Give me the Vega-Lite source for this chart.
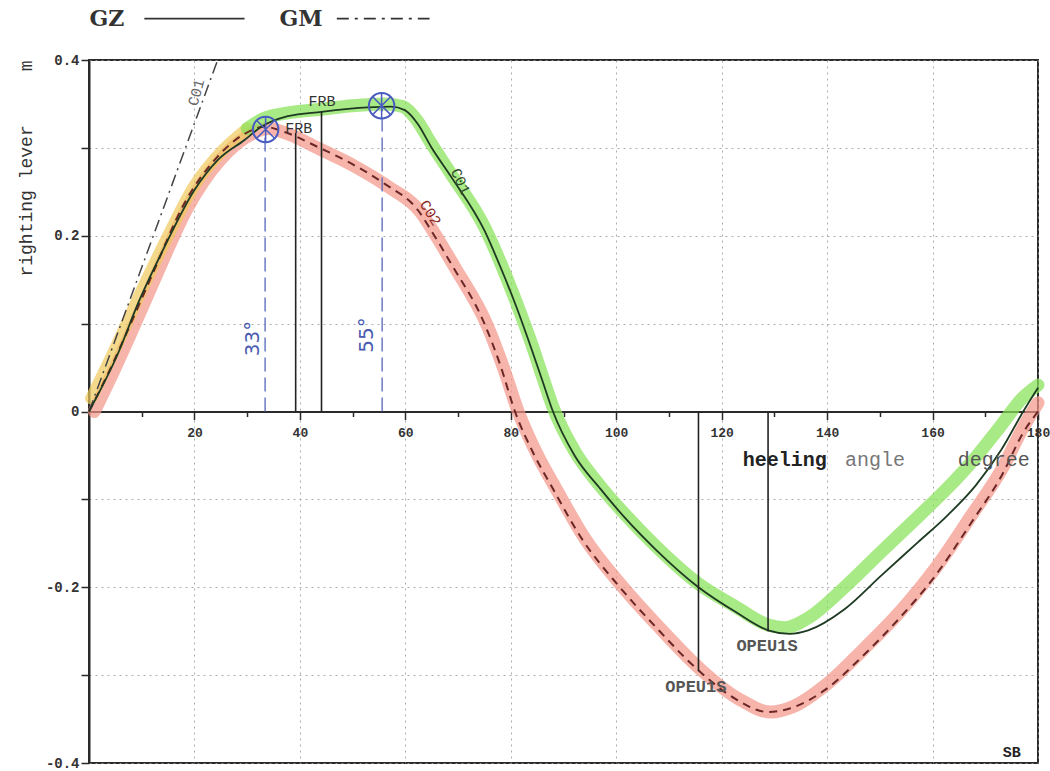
{
  "$schema": "https://vega.github.io/schema/vega-lite/v6.json",
  "width": 949,
  "height": 703,
  "autosize": "none",
  "padding": {"left": 89, "top": 60, "right": 12, "bottom": 8},
  "background": "white",
  "config": {
    "view": {"stroke": "#2a2a2a", "strokeWidth": 2},
    "font": "Liberation Mono"
  },
  "datasets": {
    "curves": [
      {"s": "C01", "a": 0, "v": 0}, {"s": "C01", "a": 5.5, "v": 0.066}, {"s": "C01", "a": 9.3, "v": 0.123}, {"s": "C01", "a": 14.3, "v": 0.187}, {"s": "C01", "a": 20, "v": 0.252}, {"s": "C01", "a": 24.4, "v": 0.286}, {"s": "C01", "a": 29.5, "v": 0.309}, {"s": "C01", "a": 32.7, "v": 0.324}, {"s": "C01", "a": 37.7, "v": 0.336}, {"s": "C01", "a": 44.1, "v": 0.341}, {"s": "C01", "a": 52.9, "v": 0.346}, {"s": "C01", "a": 57.3, "v": 0.347}, {"s": "C01", "a": 59.9, "v": 0.343}, {"s": "C01", "a": 62.4, "v": 0.327}, {"s": "C01", "a": 64.9, "v": 0.301}, {"s": "C01", "a": 68.7, "v": 0.267}, {"s": "C01", "a": 75, "v": 0.206}, {"s": "C01", "a": 78, "v": 0.165}, {"s": "C01", "a": 81, "v": 0.12}, {"s": "C01", "a": 84, "v": 0.07}, {"s": "C01", "a": 86, "v": 0.035}, {"s": "C01", "a": 88, "v": 0}, {"s": "C01", "a": 92.1, "v": -0.05}, {"s": "C01", "a": 97, "v": -0.088}, {"s": "C01", "a": 101.8, "v": -0.122}, {"s": "C01", "a": 107.3, "v": -0.156}, {"s": "C01", "a": 115.6, "v": -0.2}, {"s": "C01", "a": 122.6, "v": -0.228}, {"s": "C01", "a": 128.8, "v": -0.249}, {"s": "C01", "a": 132.9, "v": -0.253}, {"s": "C01", "a": 136.4, "v": -0.249}, {"s": "C01", "a": 143.3, "v": -0.225}, {"s": "C01", "a": 150.2, "v": -0.187}, {"s": "C01", "a": 157.2, "v": -0.149}, {"s": "C01", "a": 162.7, "v": -0.119}, {"s": "C01", "a": 168.2, "v": -0.084}, {"s": "C01", "a": 173.1, "v": -0.043}, {"s": "C01", "a": 177.2, "v": 0}, {"s": "C01", "a": 180, "v": 0.027},
      {"s": "C02", "a": 0, "v": 0}, {"s": "C02", "a": 4, "v": 0.048}, {"s": "C02", "a": 7.4, "v": 0.093}, {"s": "C02", "a": 11.8, "v": 0.153}, {"s": "C02", "a": 18.1, "v": 0.237}, {"s": "C02", "a": 24.4, "v": 0.29}, {"s": "C02", "a": 29.5, "v": 0.316}, {"s": "C02", "a": 33.3, "v": 0.324}, {"s": "C02", "a": 37.1, "v": 0.318}, {"s": "C02", "a": 43.4, "v": 0.301}, {"s": "C02", "a": 49.8, "v": 0.282}, {"s": "C02", "a": 56.1, "v": 0.259}, {"s": "C02", "a": 62.4, "v": 0.229}, {"s": "C02", "a": 64.9, "v": 0.206}, {"s": "C02", "a": 68.7, "v": 0.168}, {"s": "C02", "a": 75, "v": 0.1}, {"s": "C02", "a": 78, "v": 0.053}, {"s": "C02", "a": 80.8, "v": 0}, {"s": "C02", "a": 84.5, "v": -0.05}, {"s": "C02", "a": 88, "v": -0.088}, {"s": "C02", "a": 93.5, "v": -0.145}, {"s": "C02", "a": 100.4, "v": -0.198}, {"s": "C02", "a": 107.3, "v": -0.244}, {"s": "C02", "a": 115.3, "v": -0.293}, {"s": "C02", "a": 122.6, "v": -0.327}, {"s": "C02", "a": 128.8, "v": -0.342}, {"s": "C02", "a": 132.9, "v": -0.338}, {"s": "C02", "a": 139.8, "v": -0.316}, {"s": "C02", "a": 146.8, "v": -0.278}, {"s": "C02", "a": 153.6, "v": -0.236}, {"s": "C02", "a": 160.5, "v": -0.187}, {"s": "C02", "a": 167.4, "v": -0.126}, {"s": "C02", "a": 173.1, "v": -0.073}, {"s": "C02", "a": 177.2, "v": -0.024}, {"s": "C02", "a": 180, "v": 0},
      {"s": "GM", "a": 0, "v": 0}, {"s": "GM", "a": 24.4, "v": 0.4}
    ],
    "bands": [
      {"b": "pink", "a": 1, "v": 0}, {"b": "pink", "a": 4.6, "v": 0.045}, {"b": "pink", "a": 8, "v": 0.09}, {"b": "pink", "a": 12.4, "v": 0.15}, {"b": "pink", "a": 18.7, "v": 0.232}, {"b": "pink", "a": 25, "v": 0.287}, {"b": "pink", "a": 30, "v": 0.313}, {"b": "pink", "a": 34, "v": 0.322}, {"b": "pink", "a": 37.7, "v": 0.316}, {"b": "pink", "a": 44, "v": 0.298}, {"b": "pink", "a": 50.4, "v": 0.279}, {"b": "pink", "a": 56.7, "v": 0.256}, {"b": "pink", "a": 63, "v": 0.226}, {"b": "pink", "a": 65.5, "v": 0.203}, {"b": "pink", "a": 69.3, "v": 0.165}, {"b": "pink", "a": 75.6, "v": 0.097}, {"b": "pink", "a": 78.6, "v": 0.05}, {"b": "pink", "a": 81.4, "v": 0}, {"b": "pink", "a": 85.1, "v": -0.05}, {"b": "pink", "a": 88.6, "v": -0.088}, {"b": "pink", "a": 94.1, "v": -0.145}, {"b": "pink", "a": 101, "v": -0.198}, {"b": "pink", "a": 107.9, "v": -0.244}, {"b": "pink", "a": 115.9, "v": -0.293}, {"b": "pink", "a": 123.2, "v": -0.327}, {"b": "pink", "a": 129.4, "v": -0.342}, {"b": "pink", "a": 133.5, "v": -0.336}, {"b": "pink", "a": 140, "v": -0.31}, {"b": "pink", "a": 147, "v": -0.27}, {"b": "pink", "a": 153.8, "v": -0.228}, {"b": "pink", "a": 160.6, "v": -0.178}, {"b": "pink", "a": 167.4, "v": -0.118}, {"b": "pink", "a": 173.2, "v": -0.065}, {"b": "pink", "a": 177.2, "v": -0.018}, {"b": "pink", "a": 180, "v": 0.01},
      {"b": "yellow", "a": 0.4, "v": 0.015}, {"b": "yellow", "a": 5, "v": 0.072}, {"b": "yellow", "a": 10, "v": 0.138}, {"b": "yellow", "a": 15, "v": 0.2}, {"b": "yellow", "a": 20, "v": 0.257}, {"b": "yellow", "a": 25, "v": 0.295}, {"b": "yellow", "a": 30, "v": 0.322},
      {"b": "green", "a": 30, "v": 0.322}, {"b": "green", "a": 33, "v": 0.333}, {"b": "green", "a": 38, "v": 0.34}, {"b": "green", "a": 44, "v": 0.344}, {"b": "green", "a": 50, "v": 0.348}, {"b": "green", "a": 56, "v": 0.35}, {"b": "green", "a": 59.5, "v": 0.347}, {"b": "green", "a": 62, "v": 0.333}, {"b": "green", "a": 64.9, "v": 0.305}, {"b": "green", "a": 68.7, "v": 0.27}, {"b": "green", "a": 75, "v": 0.21}, {"b": "green", "a": 78, "v": 0.17}, {"b": "green", "a": 81, "v": 0.125}, {"b": "green", "a": 84, "v": 0.076}, {"b": "green", "a": 86, "v": 0.04}, {"b": "green", "a": 88, "v": 0.005}, {"b": "green", "a": 92.1, "v": -0.045}, {"b": "green", "a": 97, "v": -0.085}, {"b": "green", "a": 101.8, "v": -0.118}, {"b": "green", "a": 107.3, "v": -0.152}, {"b": "green", "a": 115.6, "v": -0.196}, {"b": "green", "a": 122.6, "v": -0.222}, {"b": "green", "a": 128.8, "v": -0.243}, {"b": "green", "a": 132, "v": -0.246}, {"b": "green", "a": 136.4, "v": -0.235}, {"b": "green", "a": 143.3, "v": -0.2}, {"b": "green", "a": 150.2, "v": -0.16}, {"b": "green", "a": 157.2, "v": -0.12}, {"b": "green", "a": 162.7, "v": -0.088}, {"b": "green", "a": 168.2, "v": -0.052}, {"b": "green", "a": 173.1, "v": -0.015}, {"b": "green", "a": 177, "v": 0.015}, {"b": "green", "a": 180, "v": 0.03}
    ],
    "vlines": [
      {"k": "blue", "a": 33.4, "v": 0, "v2": 0.318},
      {"k": "blue", "a": 55.6, "v": 0, "v2": 0.345},
      {"k": "black", "a": 39.2, "v": 0, "v2": 0.317},
      {"k": "black", "a": 44.1, "v": 0, "v2": 0.341},
      {"k": "black", "a": 115.6, "v": -0.295, "v2": 0},
      {"k": "black", "a": 128.8, "v": -0.25, "v2": 0}
    ],
    "markers": [
      {"a": 33.5, "v": 0.321},
      {"a": 55.5, "v": 0.348}
    ]
  },
  "encoding": {
    "x": {
      "field": "a",
      "type": "quantitative",
      "scale": {"domain": [0, 180], "nice": false, "zero": false},
      "axis": {
        "values": [10, 20, 30, 40, 50, 60, 70, 80, 90, 100, 110, 120, 130, 140, 150, 160, 170, 180],
        "offset": -351.5,
        "title": null,
        "domainColor": "#2a2a2a",
        "domainWidth": 2,
        "tickColor": "#2a2a2a",
        "tickWidth": 1.5,
        "tickSize": {"condition": {"test": "datum.value % 20 === 0", "value": 8}, "value": 5},
        "labelExpr": "datum.value % 20 === 0 ? datum.label : ''",
        "labelFont": "Liberation Mono",
        "labelFontSize": 13,
        "labelFontWeight": "bold",
        "labelColor": "#333",
        "labelPadding": 7,
        "labelFlush": false,
        "grid": true,
        "gridColor": "#999",
        "gridDash": [2, 4],
        "gridWidth": 1,
        "gridOpacity": {"condition": {"test": "datum.value % 20 === 0", "value": 0.8}, "value": 0}
      }
    },
    "y": {
      "field": "v",
      "type": "quantitative",
      "scale": {"domain": [-0.4, 0.4], "nice": false, "zero": false},
      "axis": {
        "values": [-0.4, -0.3, -0.2, -0.1, 0, 0.1, 0.2, 0.3, 0.4],
        "title": "righting lever\u00a0\u00a0\u00a0\u00a0\u00a0m",
        "titleAnchor": "end",
        "titleFont": "Liberation Mono",
        "titleFontSize": 18,
        "titleFontWeight": "normal",
        "titleColor": "#333",
        "titlePadding": 10,
        "domainColor": "#2a2a2a",
        "domainWidth": 2,
        "tickColor": "#2a2a2a",
        "tickWidth": 1.5,
        "tickSize": 8,
        "labelExpr": "abs(round(datum.value * 10)) % 2 === 0 ? (datum.value === 0 ? '0' : (datum.value < 0 ? '-' : '') + format(abs(datum.value), '.1f')) : ''",
        "labelFont": "Liberation Mono",
        "labelFontSize": 14,
        "labelFontWeight": "bold",
        "labelColor": "#333",
        "labelPadding": 2,
        "labelFlush": false,
        "grid": true,
        "gridColor": "#999",
        "gridDash": [2, 4],
        "gridWidth": 1,
        "gridOpacity": 0.8
      }
    }
  },
  "layer": [
    {
      "data": {"name": "bands"},
      "transform": [{"filter": "datum.b === 'pink'"}],
      "mark": {"type": "line", "interpolate": "monotone", "color": "#f29488", "opacity": 0.7, "strokeWidth": 13, "strokeCap": "round", "strokeJoin": "round"}
    },
    {
      "data": {"name": "bands"},
      "transform": [{"filter": "datum.b === 'yellow'"}],
      "mark": {"type": "line", "interpolate": "monotone", "color": "#f0c85a", "opacity": 0.7, "strokeWidth": 12, "strokeCap": "round", "strokeJoin": "round"}
    },
    {
      "data": {"name": "bands"},
      "transform": [{"filter": "datum.b === 'green'"}],
      "mark": {"type": "line", "interpolate": "monotone", "color": "#86e256", "opacity": 0.72, "strokeWidth": 13, "strokeCap": "round", "strokeJoin": "round"}
    },
    {
      "data": {"name": "curves"},
      "transform": [{"filter": "datum.s === 'GM'"}],
      "mark": {"type": "line", "color": "#444", "strokeWidth": 1.5, "strokeDash": [12, 5, 2, 5], "clip": false}
    },
    {
      "data": {"name": "curves"},
      "transform": [{"filter": "datum.s === 'C02'"}],
      "mark": {"type": "line", "interpolate": "monotone", "color": "#6b2626", "strokeWidth": 2, "strokeDash": [8, 6]}
    },
    {
      "data": {"name": "curves"},
      "transform": [{"filter": "datum.s === 'C01'"}],
      "mark": {"type": "line", "interpolate": "monotone", "color": "#1e3a22", "strokeWidth": 1.8}
    },
    {
      "data": {"name": "vlines"},
      "transform": [{"filter": "datum.k === 'blue'"}],
      "mark": {"type": "rule", "color": "#5566b8", "strokeWidth": 1.3, "strokeDash": [14, 6]},
      "encoding": {"y2": {"field": "v2"}}
    },
    {
      "data": {"name": "vlines"},
      "transform": [{"filter": "datum.k === 'black'"}],
      "mark": {"type": "rule", "color": "#222", "strokeWidth": 1.6},
      "encoding": {"y2": {"field": "v2"}}
    },
    {
      "data": {"name": "markers"},
      "mark": {"type": "point", "shape": "circle", "filled": false, "stroke": "#4a5cc0", "strokeWidth": 2, "size": 650, "opacity": 1}
    },
    {
      "data": {"name": "markers"},
      "mark": {"type": "point", "shape": "M-0.7,-0.7L0.7,0.7M0.7,-0.7L-0.7,0.7M0,-1L0,1", "filled": false, "stroke": "#4a5cc0", "strokeWidth": 1.5, "size": 650, "opacity": 1}
    },
    {
      "data": {"values": [{"t": "GZ", "a": 3.4, "v": 0.447}, {"t": "GM", "a": 40.2, "v": 0.447}]},
      "mark": {"type": "text", "font": "DejaVu Serif", "fontWeight": "bold", "fontSize": 22, "color": "#333", "align": "center", "baseline": "middle", "clip": false},
      "encoding": {"text": {"field": "t"}}
    },
    {
      "data": {"values": [{"a": 10.5, "a2": 29.5, "v": 0.447}]},
      "mark": {"type": "rule", "color": "#333", "strokeWidth": 1.8, "clip": false},
      "encoding": {"x2": {"field": "a2"}}
    },
    {
      "data": {"values": [{"a": 47, "a2": 64.6, "v": 0.447}]},
      "mark": {"type": "rule", "color": "#333", "strokeWidth": 1.8, "strokeDash": [12, 6, 3, 6], "clip": false},
      "encoding": {"x2": {"field": "a2"}}
    },
    {
      "data": {"values": [{"t": "FRB", "a": 44.2, "v": 0.353}, {"t": "FRB", "a": 39.8, "v": 0.323}]},
      "mark": {"type": "text", "font": "Liberation Mono", "fontSize": 15, "color": "#333", "align": "center", "baseline": "middle"},
      "encoding": {"text": {"field": "t"}}
    },
    {
      "data": {"values": [{"t": "C01", "a": 70.5, "v": 0.262}]},
      "mark": {"type": "text", "font": "Liberation Mono", "fontSize": 15, "color": "#2d4a2d", "angle": 65, "align": "center", "baseline": "middle"},
      "encoding": {"text": {"field": "t"}}
    },
    {
      "data": {"values": [{"t": "C02", "a": 64.8, "v": 0.226}]},
      "mark": {"type": "text", "font": "Liberation Mono", "fontSize": 15, "color": "#8a2a2a", "angle": 58, "align": "center", "baseline": "middle"},
      "encoding": {"text": {"field": "t"}}
    },
    {
      "data": {"values": [{"t": "C01", "a": 20.3, "v": 0.363}]},
      "mark": {"type": "text", "font": "Liberation Mono", "fontSize": 15, "color": "#666", "angle": 285, "align": "center", "baseline": "middle"},
      "encoding": {"text": {"field": "t"}}
    },
    {
      "data": {"values": [{"t": "OPEU1S", "a": 128.6, "v": -0.267}, {"t": "OPEU1S", "a": 115.1, "v": -0.314}]},
      "mark": {"type": "text", "font": "Liberation Mono", "fontSize": 17, "fontWeight": "bold", "color": "#555", "align": "center", "baseline": "middle"},
      "encoding": {"text": {"field": "t"}}
    },
    {
      "data": {"values": [{"t": "33°", "a": 31.1, "v": 0.083}, {"t": "55°", "a": 52.8, "v": 0.087}]},
      "mark": {"type": "text", "font": "DejaVu Sans", "fontSize": 20, "color": "#4a5bb0", "angle": 270, "align": "center", "baseline": "middle"},
      "encoding": {"text": {"field": "t"}}
    },
    {
      "data": {"values": [{"t": "heeling", "a": 124.0, "v": -0.055}]},
      "mark": {"type": "text", "font": "Liberation Mono", "fontSize": 20, "fontWeight": "bold", "color": "#222", "align": "left", "baseline": "middle"},
      "encoding": {"text": {"field": "t"}}
    },
    {
      "data": {"values": [{"t": "angle", "a": 143.4, "v": -0.055}]},
      "mark": {"type": "text", "font": "Liberation Mono", "fontSize": 20, "color": "#777", "align": "left", "baseline": "middle"},
      "encoding": {"text": {"field": "t"}}
    },
    {
      "data": {"values": [{"t": "degree", "a": 164.8, "v": -0.055}]},
      "mark": {"type": "text", "font": "Liberation Mono", "fontSize": 20, "color": "#555", "align": "left", "baseline": "middle"},
      "encoding": {"text": {"field": "t"}}
    },
    {
      "data": {"values": [{"t": "SB", "a": 175, "v": -0.387}]},
      "mark": {"type": "text", "font": "Liberation Mono", "fontSize": 15, "fontWeight": "bold", "color": "#222", "align": "center", "baseline": "middle"},
      "encoding": {"text": {"field": "t"}}
    }
  ]
}
